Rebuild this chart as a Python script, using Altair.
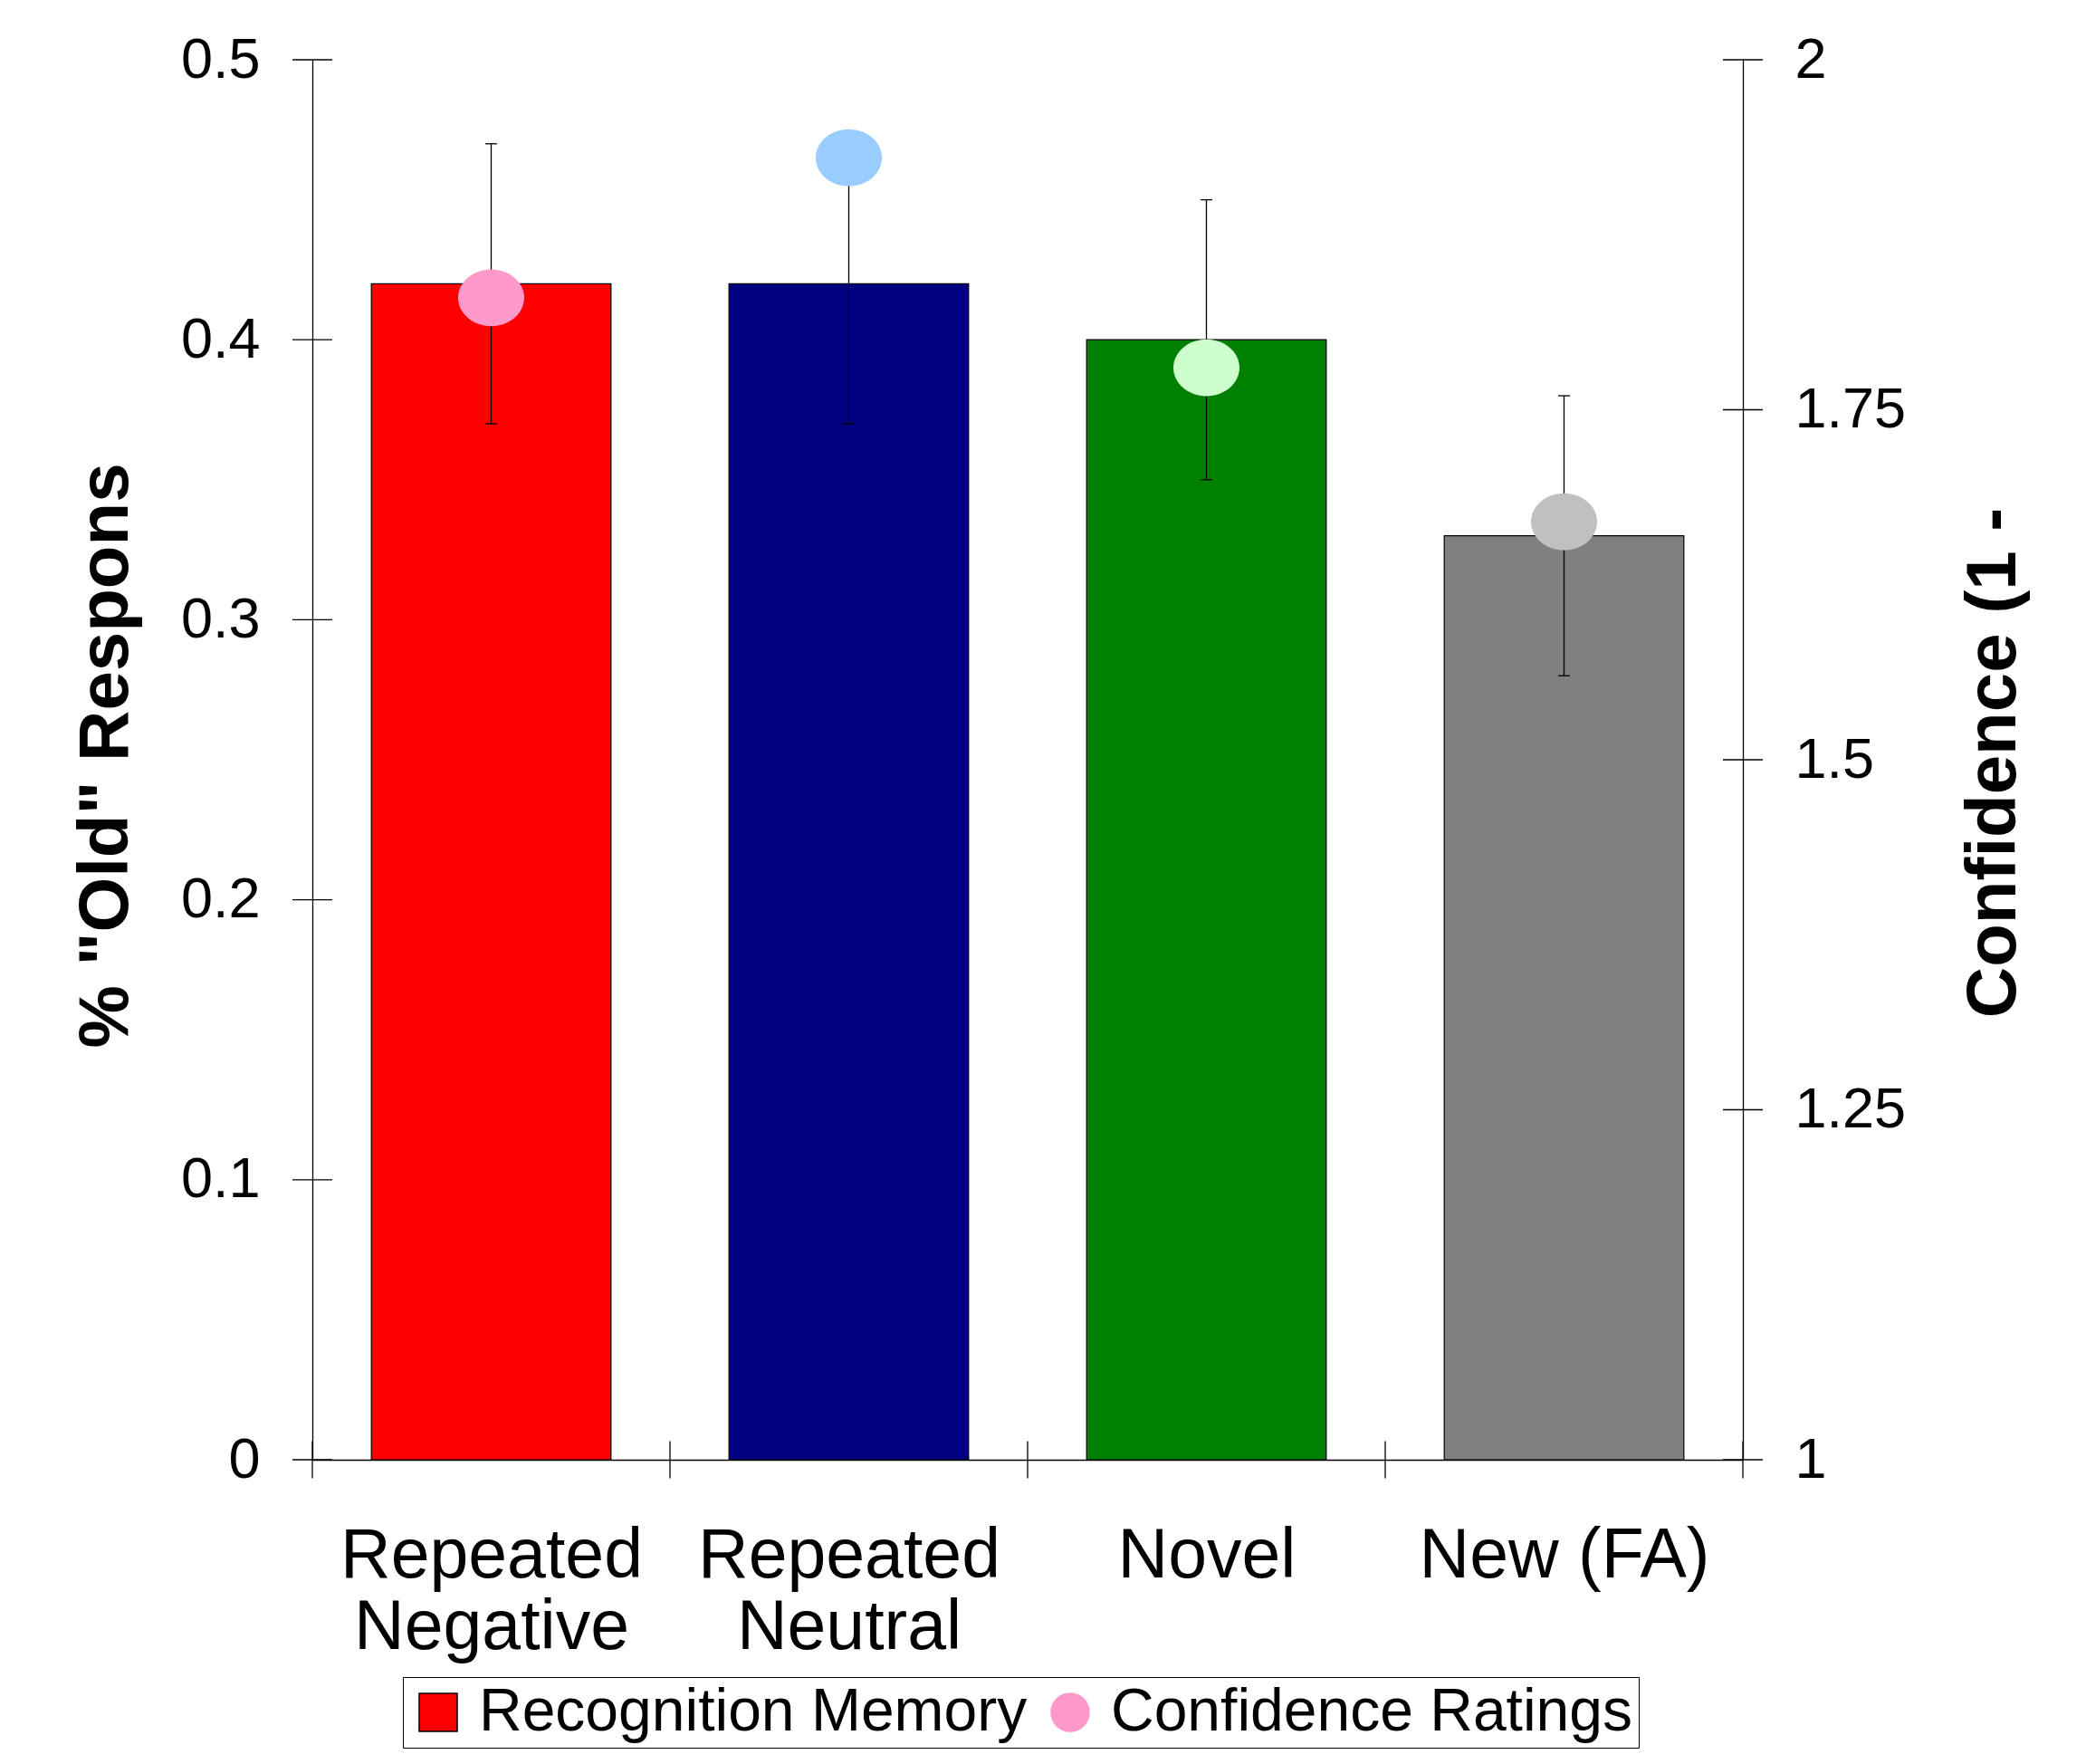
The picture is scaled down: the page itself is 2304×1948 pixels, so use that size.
import json
import altair as alt
import pandas as pd

# ---------------- data ----------------
categories = ["Repeated Negative", "Repeated Neutral", "Novel", "New (FA)"]
category_lines = [["Repeated", "Negative"], ["Repeated", "Neutral"], ["Novel"], ["New (FA)"]]
recognition = [0.42, 0.42, 0.40, 0.33]
recognition_low = [0.37, 0.37, 0.35, 0.28]
recognition_high = [0.47, 0.47, 0.45, 0.38]
confidence = [1.83, 1.93, 1.78, 1.67]
bar_colors = ["#FF0000", "#000080", "#008000", "#808080"]
dot_colors = ["#FF99CC", "#99CCFF", "#CCFFCC", "#C0C0C0"]
left_ticks = [0, 0.1, 0.2, 0.3, 0.4, 0.5]
right_ticks = [1, 1.25, 1.5, 1.75, 2]
series_names = ["Recognition Memory", "Confidence Ratings"]
left_title = '% "Old" Respons'
right_title = "Confidence (1 -"

FONT = "Liberation Sans"
W, H = 1580, 1546
GAP = 0.165
n = len(categories)

df = pd.DataFrame({
    "idx": list(range(n)),
    "category": categories,
    "recognition": recognition,
    "rec_low": recognition_low,
    "rec_high": recognition_high,
    "confidence": confidence,
    "bar_color": bar_colors,
    "dot_color": dot_colors,
})
df["base"] = 0.0
df["x_left"] = df["idx"] + GAP
df["x_right"] = df["idx"] + 1 - GAP
df["x_mid"] = df["idx"] + 0.5

df_lt = pd.DataFrame({"v": left_ticks, "xpos": 0})
df_rt = pd.DataFrame({"v": right_ticks, "xpos": n})
df_bt = pd.DataFrame({"b": list(range(n + 1)), "zero": 0})

xs = alt.Scale(domain=[0, n], nice=False, zero=False, padding=0)
yl = alt.Scale(domain=[0, 0.5], nice=False, zero=True, padding=0)
yr = alt.Scale(domain=[1, 2], nice=False, zero=False, padding=0)

label_expr = json.dumps(category_lines) + "[floor(datum.value)]"

x_axis = alt.Axis(
    values=[i + 0.5 for i in range(n)], labelExpr=label_expr, title=None,
    grid=False, domain=True, domainColor="black", domainWidth=1.3,
    ticks=True, tickColor="white", tickOpacity=0, tickSize=21, labelPadding=47,
    labelFont=FONT, labelFontSize=77, labelColor="black", labelLineHeight=79,
    labelOverlap=False, labelFlush=False, labelBaseline="top", labelLimit=2000,
    labelAlign="center", labelAngle=0)

left_axis = alt.Axis(
    values=left_ticks, labelExpr="datum.value + ''", title=left_title,
    grid=False, domainColor="black", domainWidth=1.3, ticks=True,
    tickColor="white", tickOpacity=0, tickSize=22, labelPadding=36,
    labelFont=FONT, labelFontSize=63, labelColor="black", labelFlush=False,
    labelOverlap=False, labelLimit=1000, titleFont=FONT, titleFontSize=78,
    titleFontWeight="bold", titleColor="black", titleAngle=270,
    titleAlign="center", titleX=-189, titleY=768, titleLimit=3000)

right_axis = alt.Axis(
    orient="right", values=right_ticks, labelExpr="datum.value + ''",
    title=right_title, grid=False, domainColor="black", domainWidth=1.3,
    ticks=True, tickColor="white", tickOpacity=0, tickSize=22,
    labelPadding=35, labelFont=FONT, labelFontSize=63, labelColor="black",
    labelFlush=False, labelOverlap=False, labelLimit=1000, titleFont=FONT,
    titleFontSize=78, titleFontWeight="bold", titleColor="black",
    titleAngle=270, titleAlign="center", titleX=316, titleY=776,
    titleLimit=3000)

ELLIPSE = ("M -1 0 C -1 -0.475 -0.5523 -0.86 0 -0.86 C 0.5523 -0.86 1 -0.475 1 0 "
           "C 1 0.475 0.5523 0.86 0 0.86 C -0.5523 0.86 -1 0.475 -1 0 Z")

bars = alt.Chart(df).mark_rect(stroke="black", strokeWidth=1.2).encode(
    x=alt.X("x_left:Q", scale=xs, axis=x_axis),
    x2="x_right:Q",
    y=alt.Y("recognition:Q", scale=yl, axis=left_axis),
    y2="base:Q",
    fill=alt.Fill("bar_color:N", scale=None),
)

err = alt.Chart(df).mark_rule(color="black", strokeWidth=1.3).encode(
    x=alt.X("x_mid:Q", scale=xs, axis=x_axis),
    y=alt.Y("rec_low:Q", scale=yl, axis=left_axis),
    y2="rec_high:Q",
)
cap_hi = alt.Chart(df).mark_tick(orient="horizontal", color="black", size=13,
                                 thickness=1.3, opacity=1).encode(
    x=alt.X("x_mid:Q", scale=xs, axis=x_axis),
    y=alt.Y("rec_high:Q", scale=yl, axis=left_axis),
)
cap_lo = alt.Chart(df).mark_tick(orient="horizontal", color="black", size=13,
                                 thickness=1.3, opacity=1).encode(
    x=alt.X("x_mid:Q", scale=xs, axis=x_axis),
    y=alt.Y("rec_low:Q", scale=yl, axis=left_axis),
)
lticks = alt.Chart(df_lt).mark_tick(orient="horizontal", color="black", size=44,
                                    thickness=1.3, opacity=1).encode(
    x=alt.X("xpos:Q", scale=xs, axis=x_axis),
    y=alt.Y("v:Q", scale=yl, axis=left_axis),
)
bticks = alt.Chart(df_bt).mark_tick(orient="vertical", color="black", size=41,
                                    thickness=1.3, opacity=1).encode(
    x=alt.X("b:Q", scale=xs, axis=x_axis),
    y=alt.Y("zero:Q", scale=yl, axis=left_axis),
)

legend_df = pd.DataFrame({"series": series_names})
leg = alt.Chart(legend_df).transform_filter("false").mark_point(
    filled=True, opacity=1, strokeWidth=1.5).encode(
    fill=alt.Fill("series:N", scale=alt.Scale(domain=series_names,
                  range=[bar_colors[0], dot_colors[0]]), title=None),
    stroke=alt.Stroke("series:N", scale=alt.Scale(domain=series_names,
                      range=["black", dot_colors[0]]), title=None),
    shape=alt.Shape("series:N", scale=alt.Scale(domain=series_names,
                    range=["square", "circle"]), title=None),
)

dots = alt.Chart(df).mark_point(filled=True, shape=ELLIPSE, size=5329,
                                opacity=1, strokeWidth=0).encode(
    x=alt.X("x_mid:Q", scale=xs, axis=x_axis),
    y=alt.Y("confidence:Q", scale=yr, axis=right_axis),
    fill=alt.Fill("dot_color:N", scale=None),
)
rticks = alt.Chart(df_rt).mark_tick(orient="horizontal", color="black", size=44,
                                    thickness=1.3, opacity=1).encode(
    x=alt.X("xpos:Q", scale=xs, axis=x_axis),
    y=alt.Y("v:Q", scale=yr, axis=right_axis),
)

left = alt.layer(bars, err, cap_hi, cap_lo, lticks, bticks, leg)
right = alt.layer(rticks, dots)

chart = alt.layer(left, right).resolve_scale(y="independent").properties(
    width=W, height=H,
    autosize=alt.AutoSizeParams(type="none"),
    padding={"left": 337, "top": 58, "right": 360, "bottom": 322},
).configure_view(stroke=None).configure_legend(
    orient="none", legendX=100, legendY=1786, direction="horizontal",
    strokeColor="black", fillColor="white", padding=6,
    labelFont=FONT, labelFontSize=66, labelColor="black", labelLimit=2000,
    symbolSize=1764, symbolStrokeWidth=1.5, labelOffset=12, columnPadding=14,
)

chart.save("out.html", embed_options={"renderer": "svg", "actions": False})
